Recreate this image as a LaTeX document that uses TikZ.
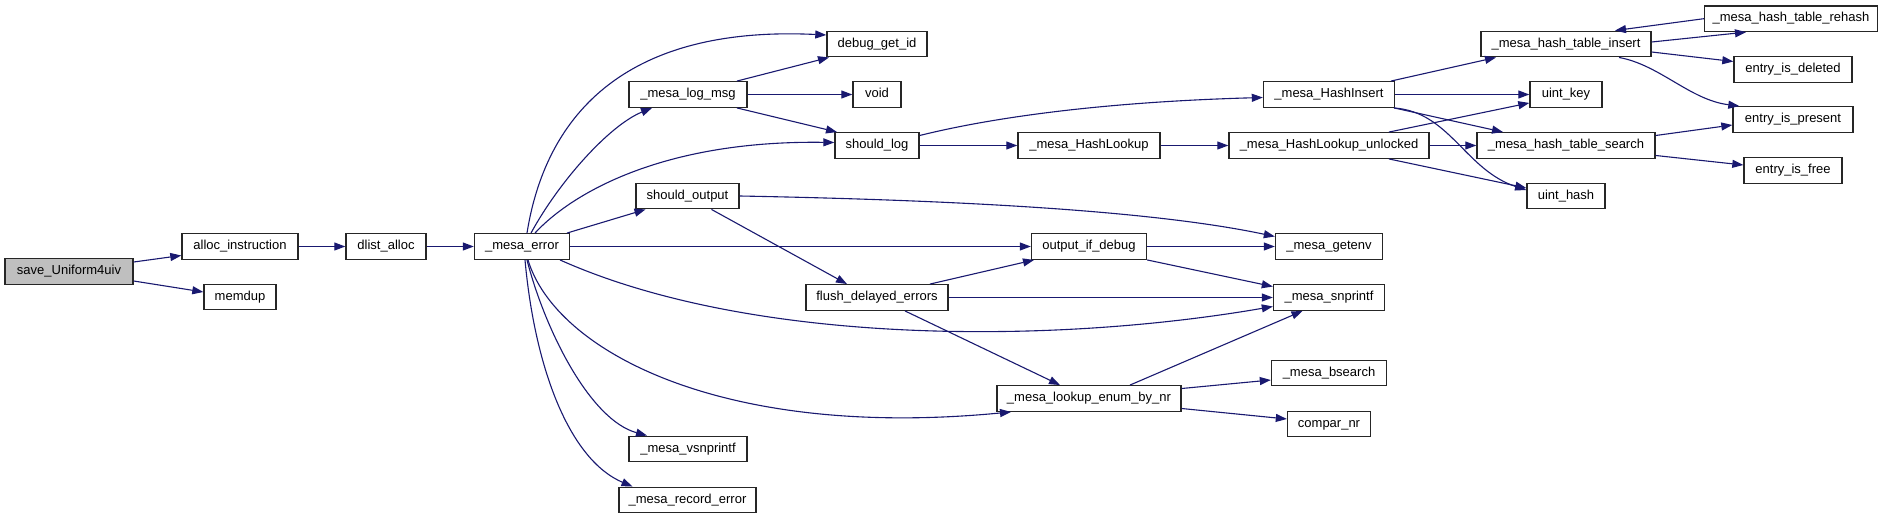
\documentclass[tikz,border=0pt]{standalone}
\usepackage{fontspec}
\setmainfont{Liberation Sans}
\usetikzlibrary{arrows.meta}
\definecolor{edgeblue}{HTML}{191970}
\definecolor{rootgray}{HTML}{BFBFBF}
\begin{document}
\begin{tikzpicture}[x=1pt,y=-1pt,
  fn/.style={draw=black!85, line width=1.4pt, fill=white, inner sep=0pt,
    minimum height=25.5pt, text height=9.5pt, text depth=3pt,
    font=\fontsize{13}{15}\selectfont},
  root/.style={fn, fill=rootgray},
  edge/.style={draw=edgeblue, line width=1.1pt, -{Triangle[length=11pt,width=8pt]}}]
\fill[white] (0,0) rectangle (1888,519);
\useasboundingbox (0,0) rectangle (1888,519);
% nodes
\node[root, minimum width=128pt] (sv) at (69,271.5) {save\_Uniform4uiv};
\node[fn, minimum width=116pt] (alloc) at (240,246.5) {alloc\_instruction};
\node[fn, minimum width=72pt] (md) at (240,297) {memdup};
\node[fn, minimum width=80pt] (dl) at (386,246.5) {dlist\_alloc};
\node[fn, minimum width=95pt] (err) at (522,246.5) {\_mesa\_error};
\node[fn, minimum width=100pt] (dbg) at (877,44) {debug\_get\_id};
\node[fn, minimum width=118pt] (log) at (688,94.5) {\_mesa\_log\_msg};
\node[fn, minimum width=48pt] (void) at (877,94.5) {void};
\node[fn, minimum width=84pt] (slog) at (877,145.5) {should\_log};
\node[fn, minimum width=103pt] (sout) at (687.5,196) {should\_output};
\node[fn, minimum width=115pt] (oid) at (1089,246.5) {output\_if\_debug};
\node[fn, minimum width=107pt] (genv) at (1329,246.5) {\_mesa\_getenv};
\node[fn, minimum width=142pt] (fde) at (877,297.5) {flush\_delayed\_errors};
\node[fn, minimum width=111pt] (snp) at (1329,297.5) {\_mesa\_snprintf};
\node[fn, minimum width=115pt] (bs) at (1329,373) {\_mesa\_bsearch};
\node[fn, minimum width=184pt] (lk) at (1089,398.5) {\_mesa\_lookup\_enum\_by\_nr};
\node[fn, minimum width=83pt] (cmp) at (1329,424) {compar\_nr};
\node[fn, minimum width=118pt] (vsn) at (688,449) {\_mesa\_vsnprintf};
\node[fn, minimum width=137pt] (rec) at (687.5,500) {\_mesa\_record\_error};
\node[fn, minimum width=131pt] (hins) at (1329,94.5) {\_mesa\_HashInsert};
\node[fn, minimum width=142pt] (hlk) at (1089,145.5) {\_mesa\_HashLookup};
\node[fn, minimum width=200pt] (hlku) at (1329,145.5) {\_mesa\_HashLookup\_unlocked};
\node[fn, minimum width=170pt] (hti) at (1566,44) {\_mesa\_hash\_table\_insert};
\node[fn, minimum width=173pt] (reh) at (1791,18.7) {\_mesa\_hash\_table\_rehash};
\node[fn, minimum width=118pt] (del) at (1793,69.5) {entry\_is\_deleted};
\node[fn, minimum width=72pt] (ukey) at (1566,94.5) {uint\_key};
\node[fn, minimum width=120pt] (pres) at (1793,119.5) {entry\_is\_present};
\node[fn, minimum width=178pt] (hts) at (1566,145.5) {\_mesa\_hash\_table\_search};
\node[fn, minimum width=98pt] (free) at (1793,170.5) {entry\_is\_free};
\node[fn, minimum width=78pt] (uh) at (1566,196) {uint\_hash};
% edges
\draw[edge] ([yshift=9.5]sv.east) -- ([yshift=-9]alloc.west);
\draw[edge] ([yshift=-9.5]sv.east) -- ([yshift=5]md.west);
\draw[edge] (alloc.east) -- (dl.west);
\draw[edge] (dl.east) -- (err.west);
\draw[edge] ([xshift=5]err.north) .. controls (545,120) and (620,25) .. ([yshift=9]dbg.west);
\draw[edge] ([xshift=9]err.north) .. controls (560,180) and (610,125) .. ([xshift=-36]log.south);
\draw[edge] ([xshift=13]err.north) .. controls (570,195) and (660,140) .. ([yshift=3]slog.west);
\draw[edge] ([xshift=45]err.north) -- ([xshift=-42]sout.south);
\draw[edge] (err.east) -- (oid.west);
\draw[edge] ([xshift=38]err.south) .. controls (750,345) and (1050,345) .. ([yshift=-9]snp.west);
\draw[edge] ([xshift=6]err.south) .. controls (555,350) and (720,440) .. ([xshift=-78]lk.south);
\draw[edge] ([xshift=5]err.south) .. controls (545,330) and (590,420) .. ([xshift=-41]vsn.north);
\draw[edge] ([xshift=3]err.south) .. controls (535,370) and (570,460) .. ([xshift=-55]rec.north);
\draw[edge] ([xshift=49]log.north) -- ([xshift=-48]dbg.south);
\draw[edge] (log.east) -- (void.west);
\draw[edge] ([xshift=49]log.south) -- ([xshift=-40]slog.north);
\draw[edge] ([yshift=10]slog.east) .. controls (990,118) and (1100,102) .. ([yshift=-3]hins.west);
\draw[edge] (slog.east) -- (hlk.west);
\draw[edge] (hlk.east) -- (hlku.west);
\draw[edge] (sout.east) .. controls (950,200) and (1150,210) .. ([yshift=10]genv.west);
\draw[edge] ([xshift=24]sout.south) -- ([xshift=-30]fde.north);
\draw[edge] ([xshift=53]fde.north) -- ([xshift=-55]oid.south);
\draw[edge] (fde.east) -- (snp.west);
\draw[edge] ([xshift=28]fde.south) -- ([xshift=-29]lk.north);
\draw[edge] (oid.east) -- (genv.west);
\draw[edge] (oid.south east) -- ([yshift=-2.5]snp.north west);
\draw[edge] ([xshift=41]lk.north) -- ([xshift=-26.5]snp.south);
\draw[edge] ([yshift=10]lk.east) -- ([yshift=-7]bs.west);
\draw[edge] ([yshift=-10]lk.east) -- ([yshift=5]cmp.west);
\draw[edge] ([xshift=62]hins.north) -- ([xshift=-70]hti.south);
\draw[edge] (hins.east) -- (ukey.west);
\draw[edge] ([xshift=-1]hins.south east) -- ([xshift=-63]hts.north);
\draw[edge] ([xshift=65]hins.south) .. controls (1450,112) and (1465,170) .. ([yshift=6]uh.west);
\draw[edge] ([xshift=60]hlku.north) -- ([yshift=5]ukey.south west);
\draw[edge] (hlku.east) -- (hts.west);
\draw[edge] ([xshift=60]hlku.south) -- ([yshift=8]uh.west);
\draw[edge] ([yshift=2]hti.east) -- ([xshift=-45]reh.south);
\draw[edge] (reh.west) -- ([xshift=49]hti.north);
\draw[edge] ([yshift=-8]hti.east) -- ([yshift=8]del.west);
\draw[edge] ([xshift=53]hti.south) .. controls (1660,65) and (1690,100) .. ([xshift=7]pres.north west);
\draw[edge] ([yshift=10]hts.east) -- ([yshift=-5.5]pres.west);
\draw[edge] ([yshift=-10]hts.east) -- ([yshift=5.5]free.west);
\end{tikzpicture}
\end{document}
